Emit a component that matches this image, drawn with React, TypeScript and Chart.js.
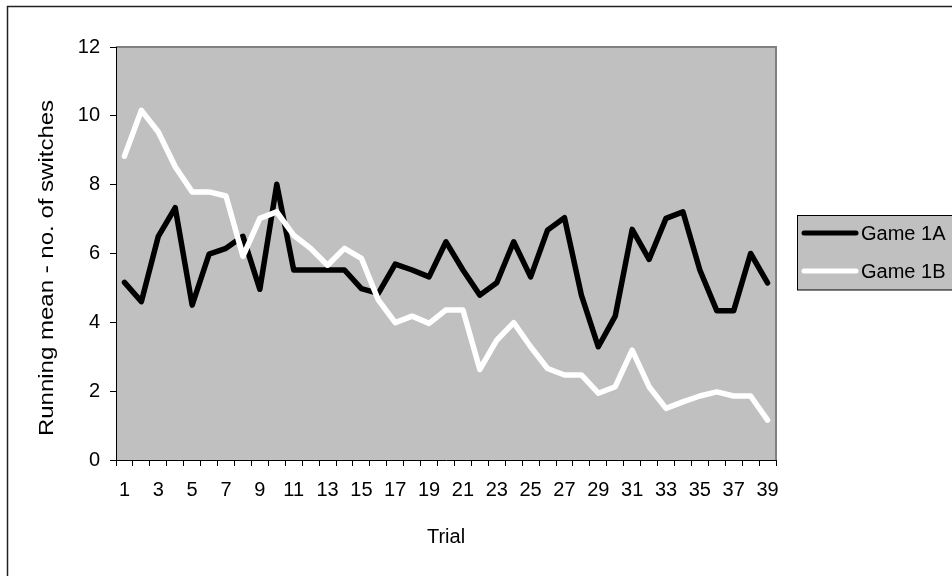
import React, { useEffect, useRef } from 'react';
import { Chart, registerables } from 'chart.js';

Chart.register(...registerables);

const trials = ['1','2','3','4','5','6','7','8','9','10','11','12','13','14','15','16','17','18','19','20','21','22','23','24','25','26','27','28','29','30','31','32','33','34','35','36','37','38','39'];

const game1A = [5.16, 4.6, 6.5, 7.33, 4.5, 5.98, 6.15, 6.5, 4.96, 8.01,
  5.52, 5.52, 5.52, 5.52, 4.98, 4.84, 5.69, 5.52, 5.32, 6.34,
  5.52, 4.79, 5.15, 6.34, 5.32, 6.68, 7.04, 4.79, 3.29, 4.18,
  6.7, 5.83, 7.02, 7.21, 5.52, 4.34, 4.34, 6.0, 5.15];

const game1B = [8.83, 10.16, 9.53, 8.52, 7.79, 7.79, 7.67, 5.92, 7.02, 7.21,
  6.53, 6.15, 5.66, 6.15, 5.86, 4.65, 3.99, 4.18, 3.97, 4.36,
  4.36, 2.63, 3.48, 3.99, 3.29, 2.66, 2.47, 2.47, 1.94, 2.13,
  3.19, 2.13, 1.5, 1.69, 1.86, 1.98, 1.86, 1.86, 1.16];

const seriesNames = ['Game 1A', 'Game 1B'];
const yTitle = 'Running mean - no. of switches';
const xTitle = 'Trial';

const FONT = '"Liberation Sans", Arial, sans-serif';

const decor = {
  id: 'decor',
  beforeDraw(chart: any) {
    const { ctx, chartArea: a } = chart;
    ctx.save();
    ctx.fillStyle = '#ffffff';
    ctx.fillRect(0, 0, chart.width, chart.height);
    ctx.strokeStyle = '#222222';
    ctx.lineWidth = 1.5;
    ctx.beginPath();
    ctx.moveTo(7.5, chart.height + 5);
    ctx.lineTo(7.5, 6.5);
    ctx.lineTo(chart.width + 5, 6.5);
    ctx.stroke();
    ctx.fillStyle = '#c0c0c0';
    ctx.fillRect(a.left, a.top, a.right - a.left, a.bottom - a.top);
    ctx.strokeStyle = '#808080';
    ctx.lineWidth = 2;
    ctx.beginPath();
    ctx.moveTo(a.left, a.top);
    ctx.lineTo(a.right, a.top);
    ctx.lineTo(a.right, a.bottom);
    ctx.stroke();
    ctx.restore();
  },
  afterDraw(chart: any) {
    const { ctx } = chart;
    ctx.save();
    // y-axis title, slightly stretched along its length as in the reference
    ctx.save();
    ctx.translate(47, 268);
    ctx.rotate(-Math.PI / 2);
    ctx.scale(1.2, 1);
    ctx.fillStyle = '#000000';
    ctx.font = '20px ' + FONT;
    ctx.textAlign = 'center';
    ctx.textBaseline = 'middle';
    ctx.fillText(yTitle, 0, 0);
    ctx.restore();

    const x0 = 797.5, y0 = 215.5, w = 200, h = 74.5;
    ctx.fillStyle = '#c0c0c0';
    ctx.fillRect(x0, y0, w, h);
    ctx.strokeStyle = '#000000';
    ctx.lineWidth = 1;
    ctx.strokeRect(x0, y0, w, h);
    chart.data.datasets.forEach((ds: any, i: number) => {
      const y = 233 + i * 38;
      ctx.strokeStyle = ds.borderColor;
      ctx.lineWidth = 5;
      ctx.lineCap = 'round';
      ctx.beginPath();
      ctx.moveTo(804, y);
      ctx.lineTo(856, y);
      ctx.stroke();
      ctx.fillStyle = '#000000';
      ctx.font = '20px ' + FONT;
      ctx.textBaseline = 'middle';
      ctx.textAlign = 'left';
      ctx.fillText(ds.label, 861, y + 1);
    });
    ctx.restore();
  },
};

export default function App() {
  const ref = useRef<HTMLCanvasElement>(null);
  useEffect(() => {
    if (!ref.current) return;
    const font = { family: FONT, size: 20 };
    const chart = new Chart(ref.current, {
      type: 'line',
      data: {
        labels: trials,
        datasets: [
          {
            label: seriesNames[0],
            data: game1A,
            borderColor: '#000000',
            backgroundColor: '#000000',
            borderWidth: 5.5,
            pointRadius: 0,
            tension: 0,
            borderJoinStyle: 'round',
            borderCapStyle: 'round',
            order: 1,
          },
          {
            label: seriesNames[1],
            data: game1B,
            borderColor: '#ffffff',
            backgroundColor: '#ffffff',
            borderWidth: 5.5,
            pointRadius: 0,
            tension: 0,
            borderJoinStyle: 'round',
            borderCapStyle: 'round',
            order: 0,
          },
        ],
      },
      options: {
        responsive: false,
        animation: false,
        layout: { padding: { left: 0, top: 47, right: 176, bottom: 0 } },
        plugins: {
          legend: { display: false },
          tooltip: { enabled: false },
        },
        scales: {
          x: {
            type: 'category',
            offset: true,
            grid: { offset: true, drawOnChartArea: false, drawTicks: true, tickLength: 6, color: '#000000' },
            border: { color: '#000000', width: 1 },
            ticks: {
              autoSkip: false,
              maxRotation: 0,
              minRotation: 0,
              padding: 12,
              color: '#000000',
              font,
              callback: (_v: any, i: number) => (i % 2 === 0 ? trials[i] : ''),
            },
            title: { display: true, text: xTitle, color: '#000000', font, padding: { top: 0, bottom: 27 } },
            afterFit: (s: any) => { s.height = 116; },
          },
          y: {
            min: 0,
            max: 12,
            grid: { drawOnChartArea: false, drawTicks: true, tickLength: 6, color: '#000000' },
            border: { color: '#000000', width: 1 },
            ticks: { stepSize: 2, padding: 10, color: '#000000', font },
            title: { display: false },
            afterFit: (s: any) => { s.width = 116; },
          },
        },
      },
      plugins: [decor],
    } as any);
    return () => chart.destroy();
  }, []);
  return (
    <canvas
      ref={ref}
      width={952}
      height={576}
      style={{ position: 'fixed', left: 0, top: 0, display: 'block' }}
    />
  );
}
